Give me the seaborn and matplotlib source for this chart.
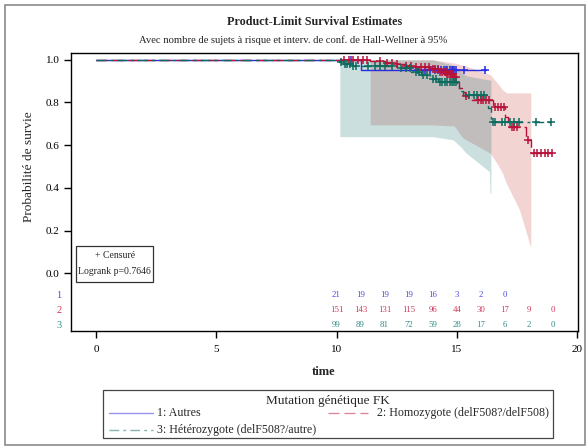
import numpy as np
import pandas as pd
import matplotlib
matplotlib.use("Agg")
import matplotlib.pyplot as plt
import seaborn as sns
from matplotlib.patches import Rectangle
from matplotlib.lines import Line2D

# ---------------- data ----------------
group_labels = ["1: Autres", "2: Homozygote (delF508?/delF508)", "3: Hétérozygote (delF508?/autre)"]

g1_time = [0, 11.0, 16.2]
g1_surv = [1.0, 0.952, 0.952]
g1_cens = [10.6, 13.4, 13.7, 13.9, 14.1, 14.2, 14.35, 14.45, 14.55, 14.6, 14.7,
           14.8, 14.85, 14.9, 14.95, 15.3, 16.17]

g2_time = [0, 11.4, 12.0, 12.5, 12.9, 13.3, 13.9, 14.3, 14.6, 14.9, 15.0, 15.1,
           15.2, 15.35, 15.45, 16.5, 17.0, 17.14, 17.88, 18.08, 18.95]
g2_surv = [1.0, 0.993, 0.986, 0.979, 0.972, 0.965, 0.955, 0.944, 0.932, 0.92, 0.895,
           0.87, 0.85, 0.83, 0.812, 0.781, 0.731, 0.687, 0.625, 0.5625, 0.5625]
g2_cens = [10.3, 10.5, 10.7, 10.9, 11.1, 11.25, 11.8, 12.1, 12.3, 12.5, 12.9, 13.1,
           13.3, 13.5, 13.7, 13.85, 14.0, 14.1, 14.2, 14.3, 14.4, 14.5, 14.55, 14.6,
           14.65, 14.7, 14.75, 14.8, 14.85, 14.9, 14.95, 15.4, 15.9, 16.0, 16.1, 16.2,
           16.35, 16.6, 16.7, 16.85, 16.95, 17.3, 17.4, 17.5, 17.95, 18.2, 18.35, 18.5,
           18.65, 18.8, 18.95]

g3_time = [0, 10.1, 10.25, 10.6, 12.5, 13.1, 13.5, 13.9, 14.2, 15.0, 15.1, 15.25,
           16.3, 16.42, 18.9]
g3_surv = [1.0, 0.99, 0.98, 0.97, 0.962, 0.945, 0.93, 0.91, 0.895, 0.88, 0.856, 0.833,
           0.775, 0.711, 0.711]
g3_cens = [10.2, 10.35, 10.45, 10.55, 10.7, 10.8, 11.3, 11.6, 11.8, 12.0, 12.3, 12.7,
           12.9, 13.05, 13.3, 13.45, 13.6, 13.75, 14.0, 14.15, 14.3, 14.4, 14.5, 14.6,
           14.7, 14.8, 14.9, 14.95, 15.5, 15.7, 15.85, 16.0, 16.15, 16.5, 16.6, 16.9,
           17.0, 17.2, 17.4, 17.6, 18.3, 18.9]

# Hall-Wellner bands
band2_time = [11.4, 14.0, 14.9, 15.25, 15.8, 16.4, 16.7, 16.9, 17.07, 17.6, 18.08]
band2_low = [0.695, 0.695, 0.69, 0.634, 0.60, 0.5625, 0.51, 0.47, 0.42, 0.30, 0.12]
band2_high = [1.0, 1.0, 0.985, 0.975, 0.955, 0.93, 0.89, 0.86, 0.845, 0.845, 0.845]

band3_time = [10.14, 14.0, 14.85, 15.15, 15.4, 16.36, 16.38, 16.42]
band3_low = [0.64, 0.64, 0.625, 0.594, 0.5625, 0.476, 0.375, 0.375]
band3_high = [1.0, 1.0, 0.975, 0.945, 0.925, 0.905, 0.905, 0.905]

risk_times = [10, 11, 12, 13, 14, 15, 16, 17, 18, 19]
risk1 = [21, 19, 19, 19, 16, 3, 2, 0]
risk2 = [151, 143, 131, 115, 96, 44, 30, 17, 9, 0]
risk3 = [99, 89, 81, 72, 59, 28, 17, 6, 2, 0]

x_ticks = [0, 5, 10, 15, 20]
y_ticks = [0.0, 0.2, 0.4, 0.6, 0.8, 1.0]

# ---------------- style ----------------
sns.set_style("white")
plt.rcParams["font.family"] = ["Liberation Serif", "DejaVu Serif"]

c_blue = "#2B2BE0"
c_red = "#B8123A"
c_teal = "#0B6B5E"
risk_cols = ["#4A4AE6", "#D0385A", "#2E8C86"]

W, H = 586, 447
fig = plt.figure(figsize=(W / 100, H / 100), dpi=100)

def fx(px):
    return px / W

def fy(py):
    return 1 - py / H

ax_l, ax_r, ax_t, ax_b = 70.5, 578.2, 52.7, 331.0
ax = fig.add_axes([fx(ax_l), fy(ax_b), fx(ax_r - ax_l), (ax_b - ax_t) / H])

# y mapping: 1.0 at y=59.8px, 0.0 at 273.3px
ppu = 273.3 - 59.8
ax.set_ylim(-(ax_b - 273.3) / ppu, 1 + (59.8 - ax_t) / ppu)
ax.set_xlim(-(96 - ax_l) / 24.05, (ax_r - 96) / 24.05)

# bands
ax.fill_between(band2_time, band2_low, band2_high, color="#C83C32", alpha=0.22,
                linewidth=0, zorder=1)
ax.fill_between(band3_time, band3_low, band3_high, color="#146E6E", alpha=0.22,
                linewidth=0, zorder=1.1)

curves = [
    (g1_time, g1_surv, g1_cens, c_blue, (None)),
    (g2_time, g2_surv, g2_cens, c_red, (8, 3.5)),
    (g3_time, g3_surv, g3_cens, c_teal, (7, 3, 2, 3)),
]

for i, (tt, ss, cc, col, dash) in enumerate(curves):
    df = pd.DataFrame({"time": tt, "surv": ss})
    kw = dict(data=df, x="time", y="surv", color=col, lw=1.0, estimator=None,
              sort=False, drawstyle="steps-post", ax=ax, zorder=3 + i)
    sns.lineplot(**kw)
    if dash is not None:
        ax.lines[-1].set_dashes(dash)
    tarr = np.asarray(tt)
    sarr = np.asarray(ss)
    idx = np.searchsorted(tarr, np.asarray(cc), side="right") - 1
    cdf = pd.DataFrame({"time": cc, "surv": sarr[idx]})
    sns.scatterplot(data=cdf, x="time", y="surv", marker="+", color=col, s=34,
                    linewidth=1.1, ax=ax, zorder=6 + i)

# at risk table
rows_y = [-(295 - 273.3) / ppu, -(310.5 - 273.3) / ppu, -(325 - 273.3) / ppu]
for k, (vals, ry) in enumerate(zip([risk1, risk2, risk3], rows_y)):
    for t, v in zip(risk_times, vals):
        ax.text(t, ry, str(v), color=risk_cols[k], fontsize=6.3, ha="center",
                va="center", zorder=10)
    ax.text(-(96 - 59) / 24.05, ry, str(k + 1), color=risk_cols[k], fontsize=7.5,
            ha="center", va="center", clip_on=False)

ax.set_xticks(x_ticks)
ax.set_xticklabels([str(v) for v in x_ticks])
ax.set_yticks(y_ticks)
ax.set_yticklabels([f"{v:.1f}" for v in y_ticks])
ax.tick_params(axis="both", which="major", direction="out", length=5, width=1,
               labelsize=8, colors="black", bottom=True, left=True, top=False,
               right=False)
ax.tick_params(axis="x", pad=5)
ax.tick_params(axis="y", pad=3)
for sp in ax.spines.values():
    sp.set_visible(True)
    sp.set_color("black")
    sp.set_linewidth(1.0)
ax.set_xlabel("")
ax.set_ylabel("")
ax.grid(False)
if ax.get_legend():
    ax.get_legend().remove()

# titles / labels
fig.text(fx(315), fy(22), "Product-Limit Survival Estimates", ha="center", va="center",
         fontsize=8.7, fontweight="bold")
fig.text(fx(293), fy(40), "Avec nombre de sujets à risque et interv. de conf. de Hall-Wellner à 95%",
         ha="center", va="center", fontsize=7.7)
fig.text(fx(29), fy(167), "Probabilité de survie", rotation=90, ha="center", va="center",
         fontsize=9.6)
fig.text(fx(324), fy(372), "time", ha="center", va="center", fontsize=9, fontweight="bold")

# censored / logrank box
fig.patches.append(Rectangle((fx(76), fy(282)), fx(153 - 76), (282 - 246) / H,
                             transform=fig.transFigure, fill=False, ec="#333333", lw=0.9))
fig.text(fx(115), fy(255), "+ Censuré", ha="center", va="center", fontsize=7.0)
fig.text(fx(114.5), fy(271), "Logrank p=0.7646", ha="center", va="center", fontsize=7.0)

# legend box
fig.patches.append(Rectangle((fx(103), fy(438)), fx(553 - 103), (438 - 390) / H,
                             transform=fig.transFigure, fill=False, ec="#444444", lw=0.9))
fig.text(fx(328), fy(401), "Mutation génétique FK", ha="center", va="center", fontsize=9.5)
leg_items = [
    (109, 153, 413, c_blue, None, group_labels[0], 157),
    (328, 368, 413, c_red, (8, 3.5), group_labels[1], 377),
    (109, 153, 429.5, c_teal, (7, 3, 2, 3), group_labels[2], 157),
]
for x0, x1, yy, col, dash, lab, tx in leg_items:
    ln = Line2D([fx(x0), fx(x1)], [fy(yy), fy(yy)], transform=fig.transFigure,
                color=col, lw=1.0, alpha=0.5)
    if dash is not None:
        ln.set_dashes(dash)
    fig.lines.append(ln)
    fig.text(fx(tx), fy(yy), lab, ha="left", va="center", fontsize=8.6)

# outer frame
fig.patches.append(Rectangle((fx(5), fy(445)), fx(584.5 - 5), (445 - 4.5) / H,
                             transform=fig.transFigure, fill=False, ec="#8A8A8A", lw=1.2))

fig.savefig("out.png", dpi=100)
